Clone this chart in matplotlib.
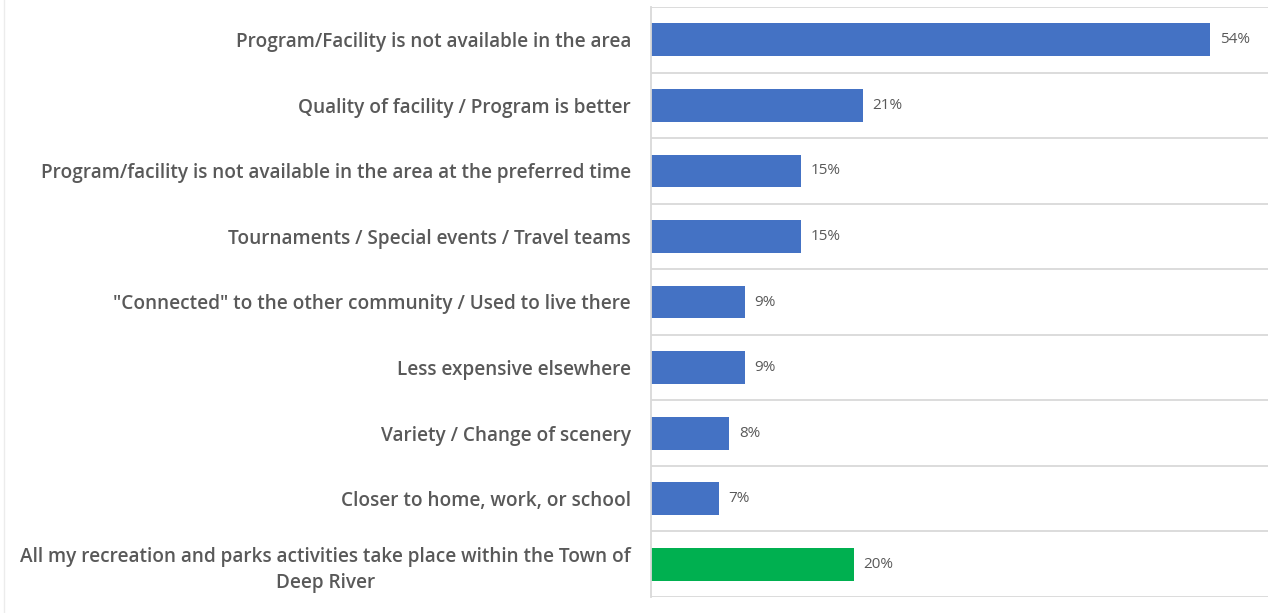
import matplotlib.pyplot as plt
from matplotlib.lines import Line2D

categories = [
    "Program/Facility is not available in the area",
    "Quality of facility / Program is better",
    "Program/facility is not available in the area at the preferred time",
    "Tournaments / Special events / Travel teams",
    "\"Connected\" to the other community / Used to live there",
    "Less expensive elsewhere",
    "Variety / Change of scenery",
    "Closer to home, work, or school",
    "All my recreation and parks activities take place within the Town of\nDeep River",
]
values = [54.4, 20.6, 14.6, 14.6, 9.1, 9.1, 7.6, 6.6, 19.7]
colors = ["#4472C4"] * 8 + ["#00B050"]

text_gray = "#595959"
grid_gray = "#d9d9d9"

fig = plt.figure(figsize=(12.68, 6.13), dpi=100)
ax = fig.add_axes([651 / 1268, 1 - 597 / 613, 1 - 651 / 1268, 590 / 613])

y = list(range(len(categories)))
ax.barh(y, values, height=0.5, color=colors)
ax.set_xlim(0, 60)
ax.set_ylim(len(categories) - 0.5, -0.5)

for i in range(len(categories) + 1):
    ax.axhline(i - 0.5, color=grid_gray, lw=1.3, zorder=0)

for yi, v in zip(y, values):
    ax.text(v + 0.95, yi, f"{v:.0f}%", va="center", ha="left",
            fontsize=11, color=text_gray, family="Open Sans")

ax.set_yticks(y)
ax.set_yticklabels(categories)
for lab in ax.get_yticklabels():
    lab.set_multialignment("center")
    lab.set_linespacing(1.45)
    lab.set_fontfamily("Open Sans")
    lab.set_fontweight("semibold")
    lab.set_fontsize(13.7)
    lab.set_color(text_gray)
ax.tick_params(axis="y", length=0, pad=14.4)
ax.set_xticks([])

for s in ["top", "bottom", "right"]:
    ax.spines[s].set_visible(False)
ax.spines["left"].set_color(grid_gray)
ax.spines["left"].set_linewidth(1.3)

fig.add_artist(Line2D([4 / 1268, 4 / 1268], [0, 1], color="#ececec", lw=1,
                      transform=fig.transFigure))

fig.savefig("out.png", dpi=100)
